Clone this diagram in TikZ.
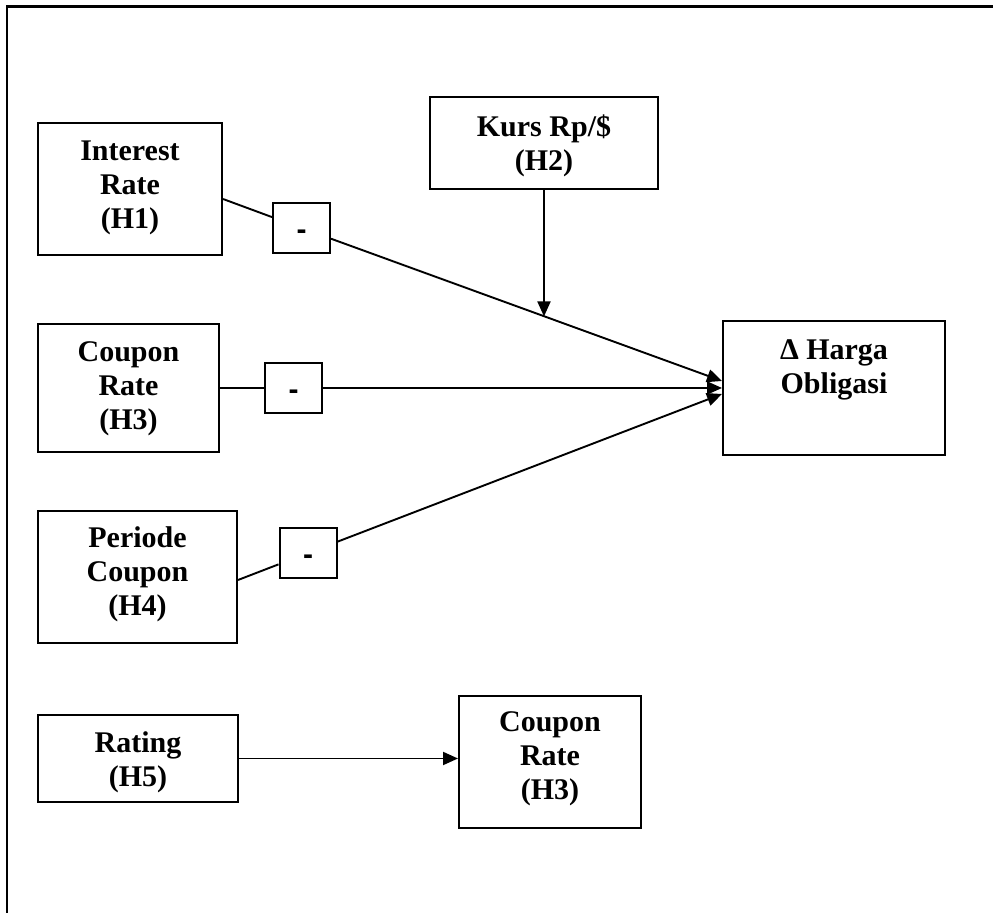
\documentclass[tikz,border=0pt]{standalone}
\usepackage{fontspec}
\setmainfont{Liberation Serif}
\newfontfamily\minusfont{Liberation Sans}
\usetikzlibrary{arrows.meta,calc}
\newcommand{\mylines}[1]{\begin{tabular}[t]{@{}c@{}}#1\end{tabular}}
\begin{document}
\begin{tikzpicture}[x=0.5pt,y=-0.5pt,
  box/.style={draw,line width=1pt,inner sep=0pt,fill=white},
  lbl/.style={anchor=base,inner sep=0pt,font=\bfseries\fontsize{15}{17}\selectfont},
  mbox/.style={draw,line width=1pt,inner sep=0pt,fill=white,minimum width=28.5pt,minimum height=25pt},
  msign/.style={inner sep=0pt,font=\minusfont\bfseries\fontsize{15}{17}\selectfont},
  conn/.style={line width=0.95pt},
  arr/.style={conn,-{Triangle[length=7.5pt,width=6.5pt]}}]
\useasboundingbox (0,0) rectangle (993,913);
% outer frame
\coordinate (fa) at (7,913);
\coordinate (fb) at (7,6.5);
\coordinate (fc) at (993,6.5);
\draw[line width=1.2pt] (fa) -- (fb) -- (fc);
% boxes
\node[box,minimum width=92pt,minimum height=66pt] (ir) at (130,189) {};
\node[lbl] (irt) at ([yshift=-19.5pt]ir.north) {\mylines{Interest\\Rate\\(H1)}};
\node[box,minimum width=114pt,minimum height=46pt] (kurs) at (544,143) {};
\node[lbl] (kurst) at ([yshift=-20.5pt]kurs.north) {\mylines{Kurs Rp/\$\\(H2)}};
\node[box,minimum width=111pt,minimum height=67pt] (dh) at (834,388) {};
\node[lbl] (dht) at ([yshift=-20pt]dh.north) {\mylines{Δ Harga\\Obligasi}};
\node[box,minimum width=90.5pt,minimum height=64pt] (cr) at (128.5,388) {};
\node[lbl] (crt) at ([yshift=-19.5pt]cr.north) {\mylines{Coupon\\Rate\\(H3)}};
\node[box,minimum width=99.5pt,minimum height=66pt] (pc) at (137.5,577) {};
\node[lbl] (pct) at ([yshift=-19pt]pc.north) {\mylines{Periode\\Coupon\\(H4)}};
\node[box,minimum width=100pt,minimum height=43.5pt] (rt) at (138,758.5) {};
\node[lbl] (rtt) at ([yshift=-19.5pt]rt.north) {\mylines{Rating\\(H5)}};
\node[box,minimum width=91pt,minimum height=66pt] (crb) at (550,762) {};
\node[lbl] (crbt) at ([yshift=-18.5pt]crb.north) {\mylines{Coupon\\Rate\\(H3)}};
% minus boxes
\node[mbox] (m1) at (301.5,228) {};
\node[msign] (m1t) at ([yshift=-3.5pt]m1.center) {-};
\node[mbox] (m2) at (293.5,388) {};
\node[msign] (m2t) at ([yshift=-3.5pt]m2.center) {-};
\node[mbox] (m3) at (308,553) {};
\node[msign] (m3t) at ([yshift=-3.5pt]m3.center) {-};
% connectors
\coordinate (a1) at ([yshift=-5pt]ir.east);
\coordinate (t1) at ([yshift=3.5pt]dh.west);
\draw[conn] (a1) -- (m1);
\draw[arr] (m1) -- (t1);
\coordinate (k1) at ($(m1.center)!0.578!(t1)$);
\draw[arr] (kurs.south) -- (kurs.south |- k1);
\draw[conn] (cr) -- (m2);
\draw[arr] (m2) -- (dh);
\coordinate (a3) at ([yshift=-1.5pt]pc.east);
\coordinate (t3) at ([yshift=-3pt]dh.west);
\draw[conn] (a3) -- (m3);
\draw[arr] (m3) -- (t3);
\draw[arr] (rt.east) -- (rt.east -| crb.west);
\end{tikzpicture}
\end{document}
